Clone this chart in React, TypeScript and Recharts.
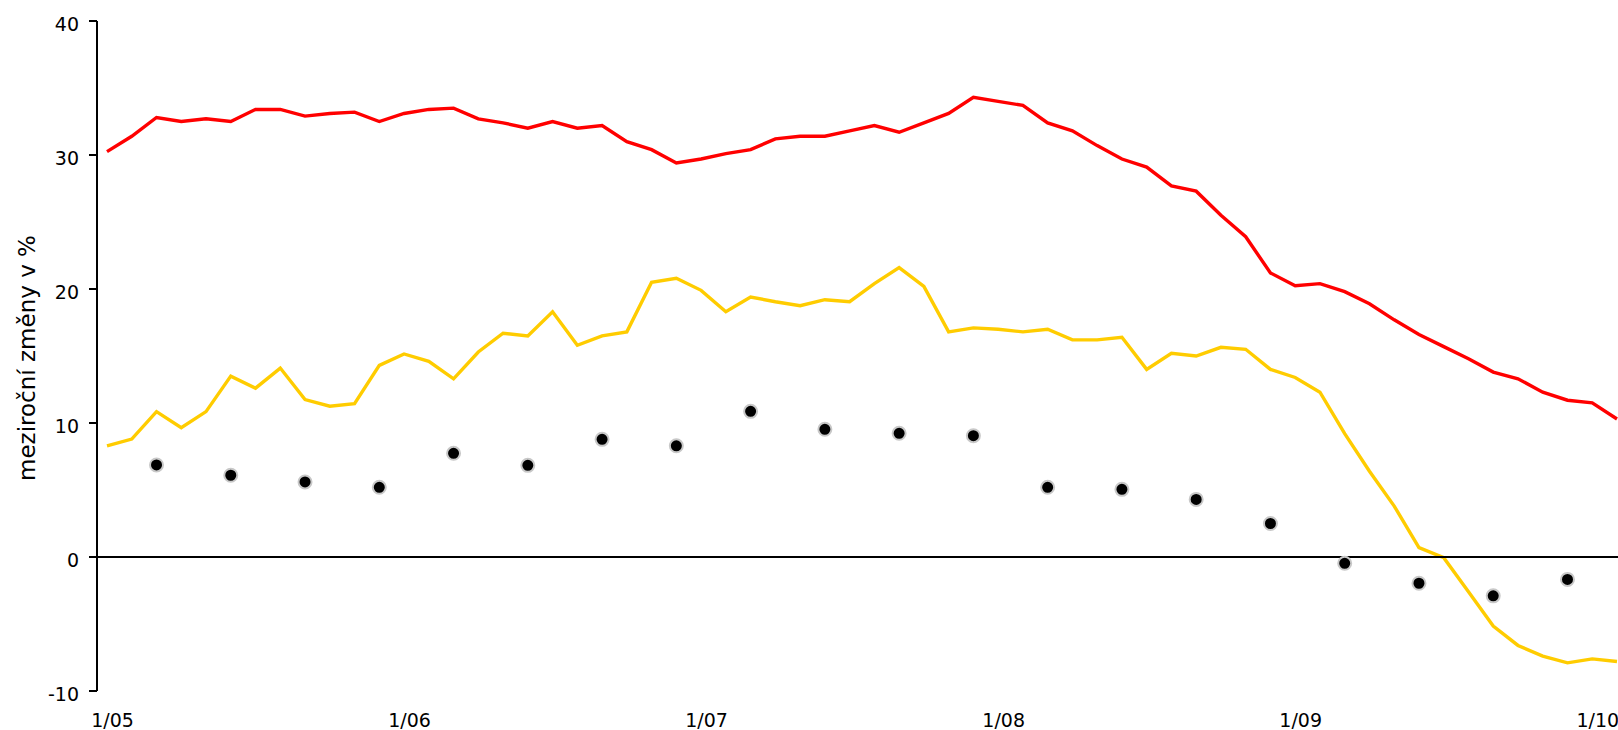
import {
  ComposedChart,
  Line,
  XAxis,
  YAxis,
  ReferenceLine,
  Label,
} from "recharts";

const months = [
  "1/05", "2/05", "3/05", "4/05", "5/05", "6/05", "7/05", "8/05", "9/05", "10/05", "11/05", "12/05",
  "1/06", "2/06", "3/06", "4/06", "5/06", "6/06", "7/06", "8/06", "9/06", "10/06", "11/06", "12/06",
  "1/07", "2/07", "3/07", "4/07", "5/07", "6/07", "7/07", "8/07", "9/07", "10/07", "11/07", "12/07",
  "1/08", "2/08", "3/08", "4/08", "5/08", "6/08", "7/08", "8/08", "9/08", "10/08", "11/08", "12/08",
  "1/09", "2/09", "3/09", "4/09", "5/09", "6/09", "7/09", "8/09", "9/09", "10/09", "11/09", "12/09",
  "1/10", "2/10",
];

// red series
const redValues = [
  30.25, 31.4, 32.8, 32.5, 32.7, 32.5, 33.4, 33.4, 32.9, 33.1, 33.2, 32.5,
  33.1, 33.4, 33.5, 32.7, 32.4, 32.0, 32.5, 32.0, 32.2, 31.0, 30.4, 29.4,
  29.7, 30.1, 30.4, 31.2, 31.4, 31.4, 31.8, 32.2, 31.7, 32.4, 33.1, 34.3,
  34.0, 33.7, 32.4, 31.8, 30.7, 29.7, 29.1, 27.7, 27.3, 25.5, 23.9, 21.2,
  20.25, 20.4, 19.8, 18.9, 17.7, 16.6, 15.7, 14.8, 13.8, 13.3, 12.3, 11.7,
  11.5, 10.3,
];

// yellow series
const yellowValues = [
  8.3, 8.8, 10.85, 9.65, 10.85, 13.5, 12.6, 14.1, 11.75, 11.25, 11.45, 14.3,
  15.15, 14.6, 13.3, 15.3, 16.7, 16.5, 18.3, 15.8, 16.5, 16.8, 20.5, 20.8,
  19.9, 18.3, 19.4, 19.05, 18.75, 19.2, 19.05, 20.4, 21.6, 20.2, 16.8, 17.1,
  17.0, 16.8, 17.0, 16.2, 16.2, 16.4, 14.0, 15.2, 15.0, 15.65, 15.5, 14.0,
  13.4, 12.3, 9.2, 6.4, 3.8, 0.7, -0.05, -2.6, -5.15, -6.6, -7.4, -7.9,
  -7.6, -7.8,
];

// quarterly points
const dotMonths = [
  "3/05", "6/05", "9/05", "12/05", "3/06", "6/06", "9/06", "12/06",
  "3/07", "6/07", "9/07", "12/07", "3/08", "6/08", "9/08", "12/08",
  "3/09", "6/09", "9/09", "12/09",
];
const dotValues = [
  6.87, 6.1, 5.6, 5.2, 7.74, 6.84, 8.78, 8.3,
  10.87, 9.53, 9.23, 9.05, 5.2, 5.05, 4.3, 2.5,
  -0.47, -1.96, -2.9, -1.67,
];

const xTicks = ["1/05", "1/06", "1/07", "1/08", "1/09", "1/10"];
const yTicks = [-10, 0, 10, 20, 30, 40];

const data = months.map((m, i) => {
  const d = dotMonths.indexOf(m);
  return {
    month: m,
    red: redValues[i],
    yellow: yellowValues[i],
    dot: d >= 0 ? dotValues[d] : null,
  };
});

const FONT = "DejaVu Sans";

const YTick = (props: any) => {
  const { x, y, payload } = props;
  return (
    <text x={x} y={y + 10} textAnchor="end" fontFamily={FONT} fontSize={19} fill="#000">
      {payload.value}
    </text>
  );
};

const XTick = (props: any) => {
  const { x, y, payload } = props;
  return (
    <text x={x + 5.5} y={y + 36} textAnchor="middle" fontFamily={FONT} fontSize={19} fill="#000">
      {payload.value}
    </text>
  );
};

const YLabel = (props: any) => {
  const vb = props.viewBox || { x: 0, y: 21, width: 97, height: 670 };
  const cx = vb.x + 35;
  const cy = vb.y + vb.height / 2 + 2;
  return (
    <text
      x={cx}
      y={cy}
      transform={`rotate(-90, ${cx}, ${cy})`}
      textAnchor="middle"
      fontFamily={FONT}
      fontSize={23}
      fill="#000"
    >
      meziroční změny v %
    </text>
  );
};

export default function App() {
  return (
    <div style={{ width: 1618, height: 730 }}>
      <style>{"body{margin:0}"}</style>
      <ComposedChart
        width={1618}
        height={730}
        data={data}
        margin={{ top: 21, right: 0, bottom: 0, left: 0 }}
      >
        <XAxis
          dataKey="month"
          ticks={xTicks}
          interval={0}
          axisLine={false}
          tickLine={false}
          tickSize={0}
          tickMargin={0}
          height={39}
          padding={{ left: 10, right: 1 }}
          tick={<XTick />}
        />
        <YAxis
          width={97}
          domain={[-10, 40]}
          ticks={yTicks}
          interval={0}
          axisLine={{ stroke: "#000", strokeWidth: 2 }}
          tickLine={{ stroke: "#000", strokeWidth: 2 }}
          tickSize={8}
          tickMargin={10}
          tick={<YTick />}
        >
          <Label content={<YLabel />} />
        </YAxis>
        <Line
          dataKey="red"
          stroke="#ff0000"
          strokeWidth={3.4}
          dot={false}
          activeDot={false}
          isAnimationActive={false}
        />
        <Line
          dataKey="yellow"
          stroke="#ffcc00"
          strokeWidth={3.4}
          dot={false}
          activeDot={false}
          isAnimationActive={false}
        />
        <ReferenceLine y={0} stroke="#000" strokeWidth={2} />
        <Line
          dataKey="dot"
          stroke="none"
          dot={{ r: 6.5, fill: "#000", stroke: "#c8c8c8", strokeWidth: 2 }}
          activeDot={false}
          isAnimationActive={false}
        />
      </ComposedChart>
    </div>
  );
}
